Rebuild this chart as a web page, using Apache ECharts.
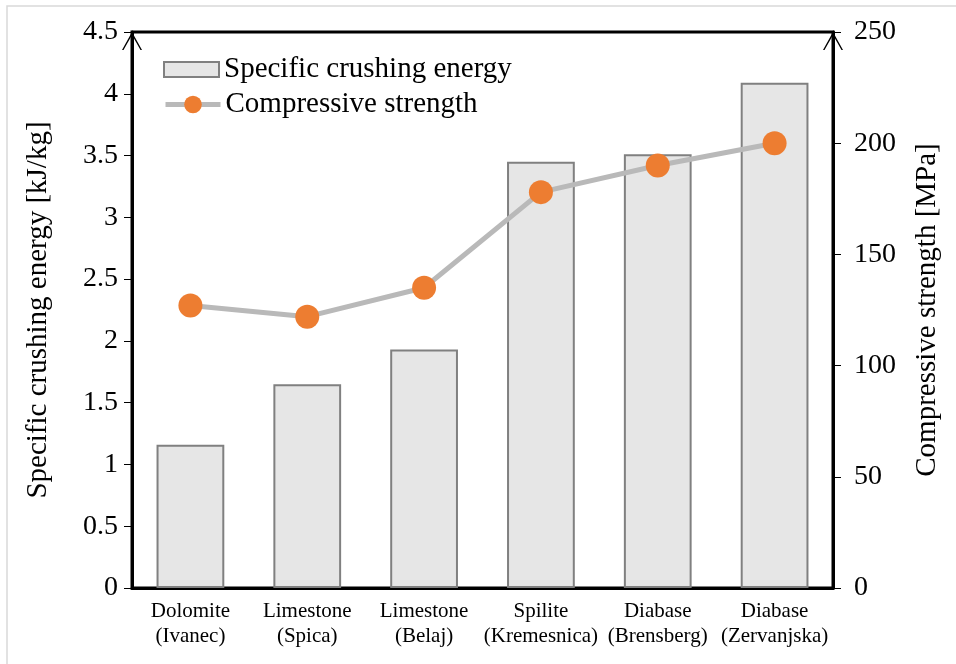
<!DOCTYPE html>
<html>
<head>
<meta charset="utf-8">
<script src="https://cdn.jsdelivr.net/npm/echarts@6/dist/echarts.min.js"></script>
<style>
  html, body { margin: 0; padding: 0; background: #fff; }
  #chart { width: 956px; height: 664px; }
</style>
</head>
<body>
<div id="chart"></div>
<script>
// rock samples
var categories = ['Dolomite\n(Ivanec)', 'Limestone\n(Spica)', 'Limestone\n(Belaj)',
                  'Spilite\n(Kremesnica)', 'Diabase\n(Brensberg)', 'Diabase\n(Zervanjska)'];
var crushingEnergy = [1.16, 1.65, 1.93, 3.45, 3.51, 4.09];      // kJ/kg
var compressiveStrength = [127, 122, 135, 178, 190, 200];       // MPa

var serif = '"Liberation Serif", "DejaVu Serif", serif';
// thin open chevron for the axis ends
var arrow = 'path://M0,18 L10,0 L20,18 L18.5,18 L10,3 L1.5,18 Z';

var chart = echarts.init(document.getElementById('chart'));
var legendText = { fontFamily: serif, fontSize: 29, color: '#000', padding: [0, 0, 0, 0] };
var option = {
    animation: false,
    backgroundColor: '#fff',
    graphic: [{
        type: 'rect',
        shape: { x: 7, y: 6, width: 960, height: 680 },
        style: { fill: 'none', stroke: '#d9d9d9', lineWidth: 1.5 },
        silent: true
    }],
    grid: {
        left: 132, right: 123, top: 32, bottom: 76,
        show: true, borderColor: '#000', borderWidth: 3, backgroundColor: 'transparent'
    },
    legend: [{
        left: 158, top: 50,
        itemWidth: 55, itemHeight: 15,
        icon: 'rect',
        textStyle: legendText,
        data: ['Specific crushing energy']
    }, {
        left: 158, top: 85,
        itemWidth: 55, itemHeight: 22,
        textStyle: legendText,
        data: [{ name: 'Compressive strength', lineStyle: { width: 5 } }]
    }],
    xAxis: {
        type: 'category',
        data: categories,
        axisLine: { lineStyle: { color: '#000', width: 3 } },
        axisTick: { show: false },
        axisLabel: { interval: 0, fontFamily: serif, fontSize: 21, color: '#000', lineHeight: 25, margin: 11 }
    },
    yAxis: [{
        type: 'value', min: 0, max: 4.5, interval: 0.5,
        name: 'Specific crushing energy [kJ/kg]',
        nameLocation: 'middle', nameGap: 79,
        nameTextStyle: { fontFamily: serif, fontSize: 29, color: '#000' },
        axisLine: { show: true, symbol: ['none', arrow], symbolSize: [20, 18], symbolOffset: [0, -9],
                    lineStyle: { color: '#000', width: 3 } },
        axisTick: { show: true, length: 8, lineStyle: { color: '#000', width: 1 } },
        axisLabel: { fontFamily: serif, fontSize: 28, color: '#000', margin: 14 },
        splitLine: { show: false }
    }, {
        type: 'value', min: 0, max: 250, interval: 50,
        name: 'Compressive strength [MPa]',
        nameLocation: 'middle', nameGap: 80,
        nameTextStyle: { fontFamily: serif, fontSize: 29, color: '#000' },
        axisLine: { show: true, symbol: ['none', arrow], symbolSize: [20, 18], symbolOffset: [0, -9],
                    lineStyle: { color: '#000', width: 3 } },
        axisTick: { show: true, length: 8, lineStyle: { color: '#000', width: 1 } },
        axisLabel: { fontFamily: serif, fontSize: 28, color: '#000', margin: 21 },
        splitLine: { show: false }
    }],
    series: [{
        name: 'Specific crushing energy',
        type: 'bar',
        data: crushingEnergy,
        barWidth: '58%',
        itemStyle: { color: '#e6e6e6', borderColor: '#808080', borderWidth: 2 }
    }, {
        name: 'Compressive strength',
        type: 'line',
        yAxisIndex: 1,
        data: compressiveStrength,
        symbol: 'circle', symbolSize: 24,
        lineStyle: { color: '#b9b9b9', width: 5 },
        itemStyle: { color: '#ed7d31' }
    }]
};
chart.setOption(option);
</script>
</body>
</html>
